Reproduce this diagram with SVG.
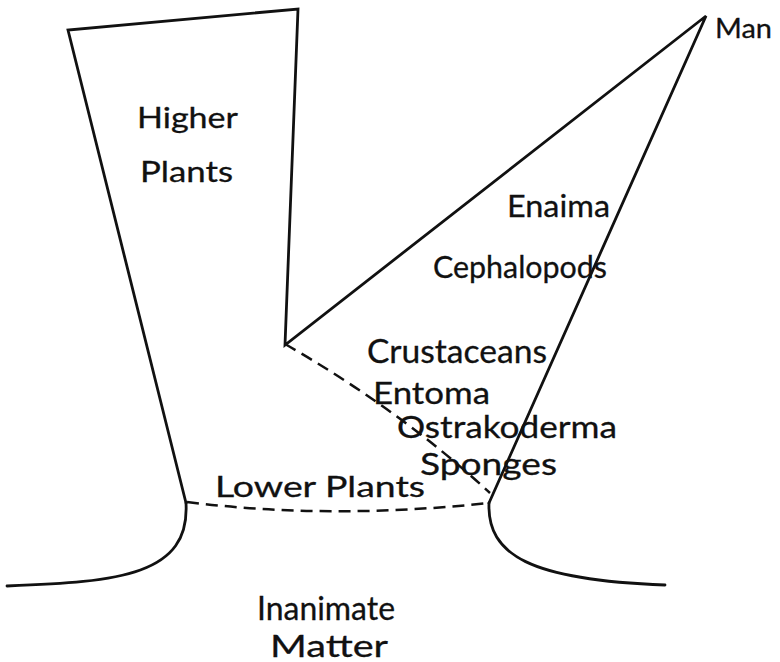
<svg xmlns="http://www.w3.org/2000/svg" width="780" height="662" viewBox="0 0 780 662">
<style>
.ln{fill:none;stroke:#111;stroke-width:2.8;stroke-linejoin:miter;stroke-linecap:round}
.ds{fill:none;stroke:#111;stroke-width:2.5;stroke-dasharray:12 7}
text{font-family:"Lato","Open Sans","DejaVu Sans",sans-serif;fill:#111;stroke:#111;stroke-width:0.3}
</style>
<rect width="780" height="662" fill="#fff"/>
<g id="shapes">
<path id="higher-plants-outline" class="ln" d="M186,503 L68,30 L298,9 L285,345 L706,16 L489,503"/>
<path id="left-base" class="ln" d="M186,503 C190,575 120,582 7,586"/>
<path id="right-base" class="ln" d="M489,503 C487,555 530,580 665,585"/>
</g>
<g id="connectors">
<path class="ds" d="M285,344 Q400,410 490,493"/>
<path class="ds" d="M187,502 Q330,520 489,503"/>
</g>
<g id="labels">
<g id="man"><text x="715" y="38" font-size="27" textLength="57" lengthAdjust="spacingAndGlyphs">Man</text></g>
<g id="higher-plants"><text x="137" y="128" font-size="28" textLength="101" lengthAdjust="spacingAndGlyphs">Higher</text><text x="140" y="182" font-size="28" textLength="93" lengthAdjust="spacingAndGlyphs">Plants</text></g>
<g id="enaima"><text x="507" y="217" font-size="31" textLength="103" lengthAdjust="spacingAndGlyphs">Enaima</text></g>
<g id="cephalopods"><text x="433" y="278" font-size="31" textLength="174" lengthAdjust="spacingAndGlyphs">Cephalopods</text></g>
<g id="crustaceans"><text x="367" y="363" font-size="32" textLength="180" lengthAdjust="spacingAndGlyphs">Crustaceans</text></g>
<g id="entoma"><text x="373" y="404" font-size="31" textLength="117" lengthAdjust="spacingAndGlyphs">Entoma</text></g>
<g id="ostrakoderma"><text x="397" y="438" font-size="31" textLength="220" lengthAdjust="spacingAndGlyphs">Ostrakoderma</text></g>
<g id="sponges"><text x="420" y="475" font-size="30" textLength="137" lengthAdjust="spacingAndGlyphs">Sponges</text></g>
<g id="lower-plants"><text x="215" y="497" font-size="29" textLength="210" lengthAdjust="spacingAndGlyphs">Lower  Plants</text></g>
<g id="inanimate-matter"><text x="257" y="620" font-size="32" textLength="138" lengthAdjust="spacingAndGlyphs">Inanimate</text><text x="270" y="657" font-size="30" textLength="118" lengthAdjust="spacingAndGlyphs">Matter</text></g>
</g>
</svg>
